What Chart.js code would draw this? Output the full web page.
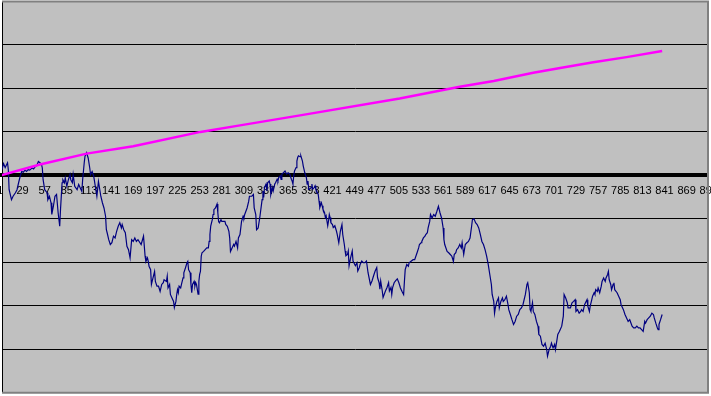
<!DOCTYPE html>
<html>
<head>
<meta charset="utf-8">
<script src="https://cdn.jsdelivr.net/npm/chart.js@4"></script>
<style>
html,body{margin:0;padding:0;background:#fff;overflow:hidden}
#wrap{width:711px;height:396px}
</style>
</head>
<body>
<div id="wrap"><canvas id="c" width="711" height="396"></canvas></div>
<script>
// Category tick labels shown on the x axis
const xTickLabels = [1,29,57,85,113,141,169,197,225,253,281,309,337,365,393,421,449,477,505,533,561,589,617,645,673,701,729,757,785,813,841,869,897];

// Blue series: category index and value
const blueCategories = [3,5,7,10,11,12,15,17,20,22,24,26,28,30,32,34,36,38,41,43,45,47,49,51,53,54,55,57,60,61,63,65,66,68,70,72,74,76,77,79,80,82,83,85,87,89,90,92,93,95,98,100,102,104,105,107,108,110,112,114,115,117,119,121,123,125,126,128,130,132,134,135,136,138,140,142,144,146,148,150,152,154,155,157,159,161,163,165,167,169,171,173,175,179,182,184,185,187,188,189,191,192,194,196,197,199,201,203,205,207,208,211,212,213,215,216,218,220,221,223,224,225,226,227,229,230,232,233,235,237,238,239,241,242,243,244,246,247,248,249,251,252,253,254,255,256,258,260,262,264,265,266,267,269,270,271,273,275,276,277,278,280,281,283,285,286,288,290,291,292,294,296,297,299,301,302,304,306,308,309,310,313,315,316,319,321,322,324,325,327,329,332,333,334,335,337,338,339,341,342,343,345,346,348,349,351,352,353,355,356,357,359,361,363,365,367,369,370,371,372,373,375,376,377,378,380,381,383,384,386,388,389,390,391,392,394,395,396,398,399,400,402,403,404,405,407,408,409,411,412,413,415,416,417,418,419,421,422,424,426,427,429,431,433,434,436,437,438,440,441,442,444,446,447,450,452,453,455,456,458,460,462,464,466,469,471,473,475,477,478,480,481,482,484,485,488,490,492,493,495,496,497,499,501,503,505,507,509,511,512,513,515,517,518,520,523,525,528,530,531,533,534,536,538,539,541,542,544,545,547,549,551,553,555,557,559,561,562,563,566,568,570,572,574,575,577,578,580,582,584,585,587,589,591,593,595,597,598,600,602,604,606,608,610,612,614,616,618,620,622,623,625,626,627,629,631,632,634,636,637,639,641,643,644,646,648,650,652,654,656,658,660,662,665,667,668,670,671,672,674,675,677,679,681,682,684,686,688,690,692,693,695,697,698,700,702,703,705,706,708,709,711,713,714,716,718,719,722,724,726,728,729,731,733,735,736,738,740,743,744,746,747,749,750,752,753,754,756,757,759,761,762,764,766,767,769,770,771,773,774,776,777,778,781,783,785,786,789,791,793,795,797,800,802,804,806,808,810,812,814,816,817,819,821,823,825,827,828,830,832,833,834,836,838];
const blueValues = [0.13,0.27,0.18,0.29,0.13,-0.33,-0.56,-0.48,-0.40,-0.33,-0.17,-0.02,0.09,0.07,0.12,0.09,0.13,0.12,0.17,0.15,0.20,0.23,0.32,0.29,0.25,0.17,-0.10,-0.33,-0.40,-0.56,-0.48,-0.63,-0.90,-0.71,-0.48,-0.44,-0.86,-1.17,-0.79,-0.17,-0.10,-0.17,-0.06,-0.25,-0.10,0.02,-0.10,-0.17,0.02,-0.25,-0.33,-0.21,-0.29,-0.37,-0.10,0.29,0.44,0.52,0.40,0.17,0.02,0.09,-0.02,-0.25,-0.48,-0.14,-0.25,-0.48,-0.63,-0.75,-0.94,-1.25,-1.32,-1.48,-1.59,-1.55,-1.40,-1.44,-1.29,-1.17,-1.09,-1.21,-1.13,-1.25,-1.32,-1.63,-1.71,-1.90,-1.48,-1.52,-1.44,-1.52,-1.48,-1.59,-1.40,-1.86,-1.98,-1.90,-1.98,-2.09,-2.17,-2.51,-2.36,-2.21,-2.44,-2.55,-2.55,-2.67,-2.51,-2.47,-2.40,-2.44,-2.32,-2.59,-2.51,-2.74,-2.82,-2.90,-3.04,-2.90,-2.74,-2.63,-2.70,-2.55,-2.59,-2.51,-2.36,-2.24,-2.13,-2.01,-1.98,-2.17,-2.24,-2.51,-2.70,-2.51,-2.44,-2.55,-2.47,-2.51,-2.73,-2.44,-2.28,-2.21,-1.86,-1.78,-1.75,-1.71,-1.67,-1.67,-1.52,-1.36,-1.17,-1.02,-0.90,-0.79,-0.75,-0.66,-0.86,-1.06,-1.09,-1.02,-1.06,-1.06,-1.06,-1.13,-1.17,-1.29,-1.44,-1.75,-1.67,-1.59,-1.63,-1.52,-1.67,-1.44,-1.36,-1.06,-0.94,-0.98,-0.90,-0.75,-0.60,-0.48,-0.48,-0.44,-0.75,-0.90,-1.25,-1.21,-0.98,-0.56,-0.36,-0.51,-0.28,-0.20,-0.36,-0.17,-0.13,-0.20,-0.44,-0.28,-0.36,-0.20,-0.17,-0.09,-0.13,-0.05,-0.01,-0.09,0.03,0.06,0.10,0.03,0.06,0.03,-0.09,-0.13,-0.20,-0.01,0.10,0.18,0.33,0.41,0.45,0.43,0.45,0.33,0.22,0.06,-0.05,-0.20,-0.13,-0.32,-0.32,-0.28,-0.20,-0.32,-0.28,-0.24,-0.32,-0.40,-0.44,-0.59,-0.74,-0.63,-0.70,-0.78,-0.86,-0.97,-0.93,-1.16,-1.05,-0.90,-0.97,-1.09,-1.13,-1.20,-1.16,-1.28,-1.36,-1.55,-1.28,-1.13,-1.36,-1.59,-1.74,-1.85,-1.82,-1.74,-2.08,-1.89,-1.74,-1.97,-2.08,-2.01,-2.20,-2.12,-2.05,-1.97,-2.01,-2.01,-1.97,-2.24,-2.51,-2.43,-2.31,-2.20,-2.12,-2.35,-2.47,-2.62,-2.43,-2.66,-2.81,-2.66,-2.58,-2.47,-2.66,-2.58,-2.74,-2.59,-2.47,-2.42,-2.38,-2.47,-2.59,-2.67,-2.74,-2.44,-2.17,-2.05,-2.09,-2.01,-1.98,-1.94,-1.94,-1.78,-1.67,-1.59,-1.55,-1.52,-1.44,-1.40,-1.36,-1.32,-1.21,-1.06,-0.90,-0.98,-0.90,-0.94,-0.83,-0.71,-0.86,-0.98,-1.21,-1.48,-1.59,-1.75,-1.78,-1.82,-1.86,-1.98,-1.82,-1.78,-1.71,-1.67,-1.59,-1.67,-1.55,-1.82,-1.59,-1.55,-1.52,-1.44,-1.17,-1.02,-1.00,-1.09,-1.13,-1.21,-1.36,-1.52,-1.59,-1.71,-1.86,-2.05,-2.28,-2.51,-2.74,-2.90,-3.17,-3.05,-2.90,-2.82,-3.05,-2.90,-2.82,-2.90,-2.86,-2.78,-2.97,-3.09,-3.20,-3.32,-3.43,-3.36,-3.24,-3.20,-3.09,-3.05,-2.97,-2.74,-2.51,-2.47,-2.70,-3.09,-3.13,-2.93,-3.13,-3.20,-3.36,-3.47,-3.66,-3.70,-3.89,-3.93,-3.86,-4.01,-4.16,-4.01,-3.93,-3.86,-3.97,-3.89,-4.01,-3.78,-3.66,-3.59,-3.55,-3.47,-3.24,-2.74,-2.82,-2.93,-3.05,-3.05,-2.93,-2.90,-2.86,-3.13,-3.09,-3.17,-3.13,-3.09,-3.13,-2.97,-2.86,-3.01,-3.13,-3.01,-2.86,-2.78,-2.70,-2.74,-2.63,-2.67,-2.59,-2.70,-2.55,-2.44,-2.36,-2.44,-2.36,-2.28,-2.21,-2.40,-2.51,-2.63,-2.51,-2.47,-2.63,-2.70,-2.78,-2.86,-2.97,-3.09,-3.20,-3.28,-3.36,-3.32,-3.47,-3.51,-3.51,-3.47,-3.51,-3.51,-3.55,-3.59,-3.36,-3.40,-3.32,-3.28,-3.24,-3.17,-3.20,-3.28,-3.40,-3.51,-3.55,-3.43,-3.32,-3.20];

// Magenta series
const magentaCategories = [1,51,110,169,254,304,380,506,582,625,675,709,751,793,838];
const magentaValues = [0.00,0.25,0.50,0.67,1.00,1.15,1.38,1.77,2.04,2.17,2.36,2.47,2.60,2.72,2.86];

const frame = {
  id: 'frame',
  beforeDraw(chart) {
    const {ctx, chartArea: a} = chart;
    ctx.save();
    ctx.fillStyle = '#ffffff';
    ctx.fillRect(0, 0, chart.width, chart.height);
    ctx.fillStyle = '#c0c0c0';
    ctx.fillRect(a.left, a.top, a.right - a.left, a.bottom - a.top);
    ctx.restore();
  },
  afterDraw(chart) {
    const {ctx, chartArea: a} = chart;
    ctx.save();
    ctx.strokeStyle = '#808080';
    ctx.lineWidth = 2;
    ctx.beginPath();
    ctx.moveTo(a.left, a.top);
    ctx.lineTo(a.right, a.top);
    ctx.lineTo(a.right, a.bottom);
    ctx.lineTo(a.left, a.bottom);
    ctx.stroke();
    ctx.restore();
  }
};

new Chart(document.getElementById('c'), {
  type: 'line',
  data: {
    datasets: [
      {
        data: magentaCategories.map((c, i) => ({x: c, y: magentaValues[i]})),
        borderColor: '#ff00ff',
        borderWidth: 2.5,
        pointRadius: 0,
        tension: 0,
        order: 0
      },
      {
        data: blueCategories.map((c, i) => ({x: c, y: blueValues[i]})),
        borderColor: '#000080',
        borderWidth: 1.2,
        pointRadius: 0,
        tension: 0,
        order: 1
      }
    ]
  },
  options: {
    responsive: false,
    devicePixelRatio: 1,
    animation: false,
    layout: {padding: {left: 2, top: 1.5, right: 3, bottom: 3.3}},
    plugins: {legend: {display: false}, tooltip: {enabled: false}},
    scales: {
      x: {
        type: 'linear',
        position: {y: 0},
        min: 3,
        max: 896,
        afterBuildTicks: s => { s.ticks = xTickLabels.map(v => ({value: v})); },
        afterFit: s => { s.paddingLeft = 0; s.paddingRight = 0; s.height = 0; },
        ticks: {
          autoSkip: false, maxRotation: 0, minRotation: 0, padding: 9,
          color: '#000',
          font: {family: '"Liberation Sans", Arial, sans-serif', size: 11},
          callback: v => String(v)
        },
        grid: {display: true, drawOnChartArea: false, drawTicks: false},
        border: {display: true, color: '#000', width: 4}
      },
      y: {
        type: 'linear',
        min: -5,
        max: 4,
        afterFit: s => { s.width = 0; s.paddingTop = 0; s.paddingBottom = 0; },
        ticks: {display: false, stepSize: 1},
        grid: {
          drawTicks: false,
          lineWidth: 1,
          color: c => (c.tick && (c.tick.value === 4 || c.tick.value === -5)) ? 'rgba(0,0,0,0)' : '#000'
        },
        border: {display: true, color: '#000', width: 1}
      }
    }
  },
  plugins: [frame]
});
</script>
</body>
</html>
